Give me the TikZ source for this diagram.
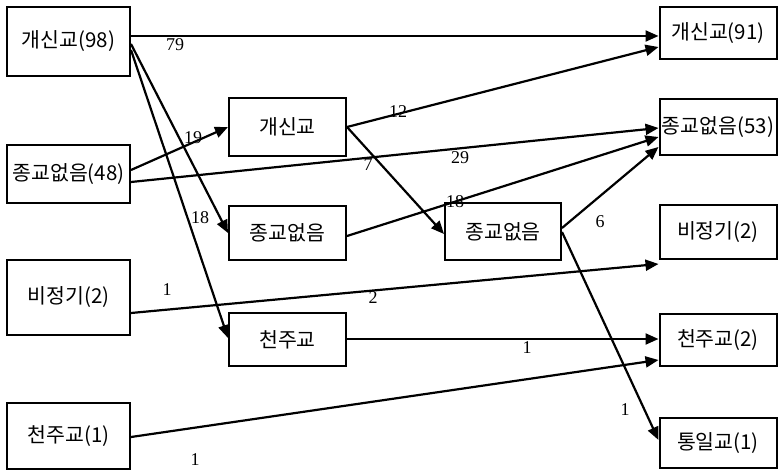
\documentclass[tikz,border=0pt]{standalone}
\usepackage{fontspec}
\setmainfont{Liberation Serif}
\newfontfamily\kr{Noto Sans CJK KR}[Scale=1.0]
\usetikzlibrary{arrows.meta,calc}
\tikzset{
  box/.style={draw, line width=2pt, rectangle, inner sep=0pt, font=\kr\fontsize{20.5}{24}\selectfont},
  flow/.style={line width=2.2pt, -{Triangle[length=13pt,width=11pt]}},
  lab/.style={inner sep=0pt, font=\fontsize{18}{20}\selectfont},
}
\begin{document}
\begin{tikzpicture}[x=1pt,y=-1pt]
\useasboundingbox (0,0) rectangle (778,470);
% left column
\node[box, minimum width=123pt, minimum height=69pt] (A1) at (68.5,41.5) {개신교(98)};
\node[box, minimum width=123pt, minimum height=58pt] (A2) at (68.5,174) {종교없음(48)};
\node[box, minimum width=123pt, minimum height=75pt] (A3) at (68.5,297.5) {비정기(2)};
\node[box, minimum width=123pt, minimum height=66pt] (A4) at (68.5,436) {천주교(1)};
% middle
\node[box, minimum width=117pt, minimum height=58pt] (M1) at (287.5,127) {개신교};
\node[box, minimum width=117pt, minimum height=54pt] (M2) at (287.5,233) {종교없음};
\node[box, minimum width=117pt, minimum height=53pt] (M3) at (287.5,339.5) {천주교};
\node[box, minimum width=116pt, minimum height=57pt] (M4) at (503,231.5) {종교없음};
% right column
\node[box, minimum width=117pt, minimum height=52pt] (R1) at (718,33) {개신교(91)};
\node[box, minimum width=117pt, minimum height=56pt] (R2) at (718,127) {종교없음(53)};
\node[box, minimum width=117pt, minimum height=54pt] (R3) at (718,232) {비정기(2)};
\node[box, minimum width=117pt, minimum height=52pt] (R4) at (718,340) {천주교(2)};
\node[box, minimum width=117pt, minimum height=50pt] (R5) at (718,443) {통일교(1)};
% connectors
\draw[flow] ($(A1.east)+(0,-5.5)$) -- ($(R1.west)+(0,3)$);
\draw[flow] ($(A1.east)+(0,2.5)$) -- (M2.west);
\draw[flow] ($(A1.east)+(0,8.5)$) -- ($(M3.west)+(0,-1.5)$);
\draw[flow] ($(A2.east)+(0,-4)$) -- (M1.west);
\draw[flow] ($(A2.east)+(0,8)$) -- ($(R2.west)+(0,1)$);
\draw[flow] (M1.east) -- ($(R1.west)+(0,14)$);
\draw[flow] (M1.east) -- ($(M4.west)+(0,2.5)$);
\draw[flow] ($(M2.east)+(0,3)$) -- ($(R2.west)+(0,10)$);
\draw[flow] ($(M4.east)+(0,-3.5)$) -- ($(R2.west)+(0,20)$);
\draw[flow] ($(M4.east)+(0,0.5)$) -- ($(R5.west)+(0,-3)$);
\draw[flow] ($(A3.east)+(0,15.5)$) -- ($(R3.south west)+(0,4)$);
\draw[flow] ($(M3.east)+(0,-0.5)$) -- ($(R4.west)+(0,-1)$);
\draw[flow] ($(A4.east)+(0,1)$) -- ($(R4.west)+(0,20)$);
% labels
\node[lab] (l79) at (175,45) {79};
\node[lab] (l18a) at (200,218) {18};
\node[lab] (l19) at (193,138) {19};
\node[lab] (l29) at (460,158) {29};
\node[lab] (l12) at (398,112) {12};
\node[lab] (l7) at (368,165) {7};
\node[lab] (l18b) at (455,202) {18};
\node[lab] (l6) at (600,222) {6};
\node[lab] (l1a) at (625,410) {1};
\node[lab] (l1b) at (167,290) {1};
\node[lab] (l2) at (373,298) {2};
\node[lab] (l1c) at (527,348) {1};
\node[lab] (l1d) at (195,460) {1};
\end{tikzpicture}
\end{document}
